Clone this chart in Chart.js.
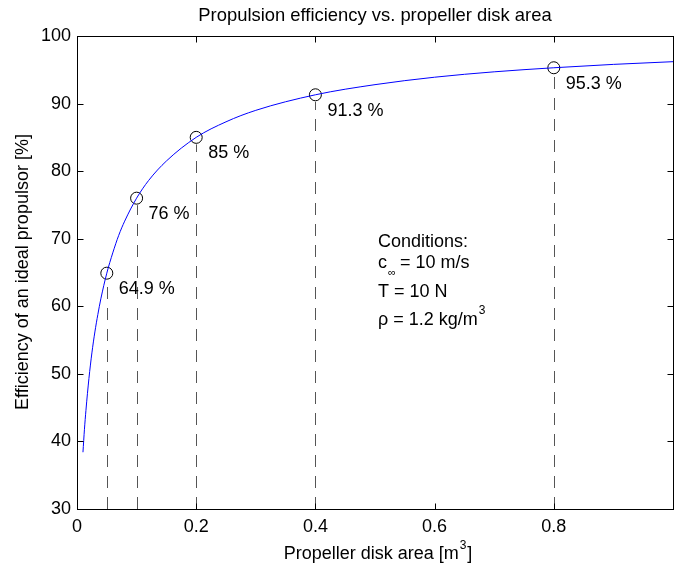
<!DOCTYPE html>
<html lang="en">
<head>
    <meta charset="UTF-8">
    <title>Propulsion efficiency</title>
    <script src="https://cdn.jsdelivr.net/npm/chart.js"></script>
    <style>
        html, body { margin: 0; padding: 0; background: #fff; overflow: hidden; }
        canvas { display: block; }
    </style>
</head>
<body>
    <canvas id="grafico" width="680" height="567"></canvas>

    <script>
        // curva (area do disco x eficiencia)
        const curveArea = [0.01, 0.0125, 0.015, 0.02, 0.025, 0.03, 0.035, 0.04, 0.05, 0.06, 0.07, 0.08, 0.1, 0.12, 0.15, 0.2, 0.25, 0.3, 0.4, 0.5, 0.6, 0.7, 0.8, 0.9, 1.0];
        const curveEff = [38.4, 41.8, 44.6, 49.3, 53.1, 56.2, 58.8, 61.1, 64.9, 67.9, 70.5, 72.6, 76.0, 78.6, 81.5, 85.0, 87.3, 89.0, 91.3, 92.8, 93.9, 94.7, 95.3, 95.8, 96.2];

        // pontos marcados
        const markArea = [0.05, 0.1, 0.2, 0.4, 0.8];
        const markEff = [64.9, 76, 85, 91.3, 95.3];
        const markText = ['64.9 %', '76 %', '85 %', '91.3 %', '95.3 %'];

        const xTicks = [0, 0.2, 0.4, 0.6, 0.8, 1];
        const yTicks = [30, 40, 50, 60, 70, 80, 90, 100];

        const FONT = '"Liberation Sans", Arial, Helvetica, sans-serif';
        Chart.defaults.font.family = FONT;
        Chart.defaults.font.size = 18;
        Chart.defaults.color = '#000';

        // linhas tracejadas, moldura, ticks internos e textos
        const extras = {
            id: 'extras',
            beforeDatasetsDraw(chart) {
                const ctx = chart.ctx;
                const x = chart.scales.x, y = chart.scales.y;
                ctx.save();
                ctx.strokeStyle = '#555';
                ctx.lineWidth = 1;
                ctx.setLineDash([12, 9]);
                markArea.forEach((a, i) => {
                    const px = Math.round(x.getPixelForValue(a)) + 0.5;
                    const py = y.getPixelForValue(markEff[i]);
                    // de baixo para cima, como no original
                    ctx.beginPath();
                    ctx.moveTo(px, chart.chartArea.bottom);
                    ctx.lineTo(px, py + 7);
                    ctx.stroke();
                });
                ctx.restore();
            },
            afterDraw(chart) {
                const ctx = chart.ctx;
                const x = chart.scales.x, y = chart.scales.y;
                const a = chart.chartArea;
                const L = Math.round(a.left) + 0.5, R = Math.round(a.right) + 0.5;
                const T = Math.round(a.top) + 0.5, B = Math.round(a.bottom) + 0.5;
                ctx.save();
                ctx.strokeStyle = '#000';
                ctx.lineWidth = 1;
                ctx.strokeRect(L, T, R - L, B - T);

                // ticks para dentro
                ctx.beginPath();
                xTicks.forEach(v => {
                    const px = Math.round(x.getPixelForValue(v)) + 0.5;
                    ctx.moveTo(px, B); ctx.lineTo(px, B - 6);
                    ctx.moveTo(px, T); ctx.lineTo(px, T + 6);
                });
                yTicks.forEach(v => {
                    const py = Math.round(y.getPixelForValue(v)) + 0.5;
                    ctx.moveTo(L, py); ctx.lineTo(L + 6, py);
                    ctx.moveTo(R, py); ctx.lineTo(R - 6, py);
                });
                ctx.stroke();

                ctx.fillStyle = '#000';
                ctx.font = '18px ' + FONT;
                ctx.textBaseline = 'middle';

                // rotulos dos pontos
                ctx.textAlign = 'left';
                markArea.forEach((v, i) => {
                    const px = x.getPixelForValue(v);
                    const py = y.getPixelForValue(markEff[i]);
                    ctx.fillText(markText[i], px + 12, py + 16);
                });

                // titulo
                ctx.textAlign = 'center';
                ctx.font = '18.4px ' + FONT;
                ctx.fillText('Propulsion efficiency vs. propeller disk area', 375, 16);

                // titulo eixo x com expoente
                const xt1 = 'Propeller disk area [m', xt2 = '3', xt3 = ']';
                ctx.font = '18px ' + FONT;
                const w1 = ctx.measureText(xt1).width;
                const w3 = ctx.measureText(xt3).width;
                ctx.font = '12px ' + FONT;
                const w2 = ctx.measureText(xt2).width;
                let sx = 377 - (w1 + w2 + w3) / 2;
                ctx.textAlign = 'left';
                ctx.font = '18px ' + FONT;
                ctx.fillText(xt1, sx, 554);
                ctx.font = '12px ' + FONT;
                ctx.fillText(xt2, sx + w1 + 1, 546);
                ctx.font = '18px ' + FONT;
                ctx.fillText(xt3, sx + w1 + w2 + 2, 554);

                // titulo eixo y
                ctx.save();
                ctx.translate(23, 272);
                ctx.rotate(-Math.PI / 2);
                ctx.textAlign = 'center';
                ctx.fillText('Efficiency of an ideal propulsor [%]', 0, 0);
                ctx.restore();

                // condicoes
                const cx = 378;
                ctx.textAlign = 'left';
                ctx.fillText('Conditions:', cx, 242);
                ctx.fillText('c', cx, 263);
                const wc = ctx.measureText('c').width;
                ctx.font = '11px ' + FONT;
                ctx.fillText('\u221E', cx + wc + 1, 273);
                ctx.font = '18px ' + FONT;
                ctx.fillText('= 10 m/s', cx + 22, 263);
                ctx.fillText('T = 10 N', cx, 292);
                const rt = '\u03C1 = 1.2 kg/m';
                ctx.fillText(rt, cx, 320);
                const wr = ctx.measureText(rt).width;
                ctx.font = '12px ' + FONT;
                ctx.fillText('3', cx + wr + 1, 311);

                ctx.restore();
            }
        };

        const config = {
            type: 'line',
            data: {
                datasets: [{
                    label: 'eficiencia',
                    data: curveArea.map((v, i) => ({ x: v, y: curveEff[i] })),
                    borderColor: '#0000ff',
                    borderWidth: 1,
                    pointRadius: 0,
                    fill: false,
                    cubicInterpolationMode: 'monotone'
                }, {
                    label: 'pontos',
                    data: markArea.map((v, i) => ({ x: v, y: markEff[i] })),
                    showLine: false,
                    pointStyle: 'circle',
                    pointRadius: 6,
                    pointBorderColor: '#000',
                    pointBackgroundColor: 'rgba(0,0,0,0)',
                    pointBorderWidth: 1
                }]
            },
            options: {
                responsive: false,
                animation: false,
                layout: { padding: { top: 36, right: 3, left: 0, bottom: 0 } },
                plugins: {
                    legend: { display: false },
                    tooltip: { enabled: false }
                },
                scales: {
                    x: {
                        type: 'linear',
                        min: 0,
                        max: 1,
                        grid: { display: false, drawTicks: false },
                        border: { display: false },
                        afterBuildTicks: s => { s.ticks = xTicks.map(v => ({ value: v })); },
                        ticks: {
                            padding: 7,
                            maxRotation: 0,
                            callback: v => v === 1 ? '' : String(v)
                        },
                        afterFit: s => { s.height = 58; }
                    },
                    y: {
                        min: 30,
                        max: 100,
                        grid: { display: false, drawTicks: false },
                        border: { display: false },
                        afterBuildTicks: s => { s.ticks = yTicks.map(v => ({ value: v })); },
                        ticks: { padding: 6 },
                        afterFit: s => { s.width = 77; }
                    }
                }
            },
            plugins: [extras]
        };

        new Chart(document.getElementById('grafico').getContext('2d'), config);
    </script>
</body>
</html>
